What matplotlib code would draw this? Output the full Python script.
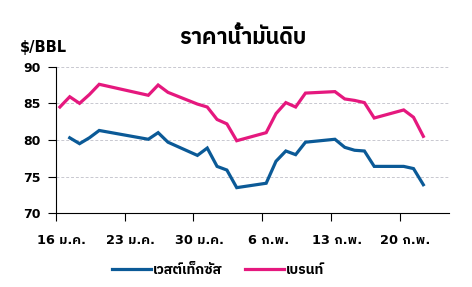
import matplotlib
matplotlib.use("Agg")
import matplotlib.pyplot as plt
import datetime as dt

# ---- data ----
brent_dates = ["2023-01-16","2023-01-17","2023-01-18","2023-01-19","2023-01-20",
               "2023-01-25","2023-01-26","2023-01-27","2023-01-30","2023-01-31",
               "2023-02-01","2023-02-02","2023-02-03","2023-02-06","2023-02-07",
               "2023-02-08","2023-02-09","2023-02-10","2023-02-13","2023-02-14",
               "2023-02-15","2023-02-16","2023-02-17","2023-02-20","2023-02-21",
               "2023-02-22"]
brent = [84.5, 85.9, 85.0, 86.2, 87.6, 86.1, 87.5, 86.5, 84.9, 84.5,
         82.8, 82.2, 79.9, 81.0, 83.6, 85.1, 84.5, 86.4, 86.6, 85.6,
         85.4, 85.1, 83.0, 84.1, 83.1, 80.5]
wti_dates = ["2023-01-17","2023-01-18","2023-01-19","2023-01-20",
             "2023-01-25","2023-01-26","2023-01-27","2023-01-30","2023-01-31",
             "2023-02-01","2023-02-02","2023-02-03","2023-02-06","2023-02-07",
             "2023-02-08","2023-02-09","2023-02-10","2023-02-13","2023-02-14",
             "2023-02-15","2023-02-16","2023-02-17","2023-02-20","2023-02-21",
             "2023-02-22"]
wti = [80.3, 79.5, 80.3, 81.3, 80.1, 81.0, 79.7, 77.9, 78.9,
       76.4, 75.9, 73.5, 74.1, 77.1, 78.5, 78.0, 79.7, 80.1, 79.0,
       78.6, 78.5, 76.4, 76.4, 76.1, 73.9]
tick_dates = ["2023-01-16", "2023-01-23", "2023-01-30", "2023-02-06", "2023-02-13", "2023-02-20"]
tick_labels = ["16 ม.ค.", "23 ม.ค.", "30 ม.ค.", "6 ก.พ.", "13 ก.พ.", "20 ก.พ."]
series_names = ["เวสต์เท็กซัส", "เบรนท์"]
title = "ราคาน้ำมันดิบ"
unit = "$/BBL"

plt.rcParams['font.family'] = ['DejaVu Sans', 'IBM Plex Sans Thai']
plt.rcParams['font.weight'] = 'bold'

start = dt.date(2023, 1, 16)
def dnum(s, off=0.0):
    d = dt.date.fromisoformat(s)
    return (d - start).days + off

fig = plt.figure(figsize=(4.72, 2.87), dpi=100)
ax = fig.add_axes([0.1186, 0.2568, 0.951 - 0.1186, 0.7676 - 0.2568])

ax.plot([dnum(d, 0.4) for d in wti_dates], wti, color="#0B5A97", lw=2.3,
        label=series_names[0], solid_joinstyle="miter")
ax.plot([dnum(d, 0.4) for d in brent_dates], brent, color="#E5187E", lw=2.3,
        label=series_names[1], solid_joinstyle="miter")

ax.set_xlim(0, 40)
ax.set_ylim(70, 90)
ax.set_yticks([70, 75, 80, 85, 90])
ax.set_xticks([dnum(d) for d in tick_dates])
ax.set_xticklabels([])
ax.set_xticks([dnum(d, 0.6) for d in tick_dates], minor=True)
ax.set_xticklabels(tick_labels, minor=True, fontweight="bold", fontsize=9.3)
for lab in ax.get_yticklabels():
    lab.set_fontweight("bold"); lab.set_fontsize(9)
for y in [75, 80, 85, 90]:
    ax.axhline(y, color="#C8C8D0", lw=0.7, ls=(0, (3, 2)), zorder=0)
for s in ["top", "right"]:
    ax.spines[s].set_visible(False)
ax.tick_params(axis="both", which="major", direction="out", length=6, width=0.8, pad=5)
ax.tick_params(axis="x", which="minor", length=0, pad=15)

fig.text(0.514, 0.872, title, ha="center", va="center", fontsize=15.5, fontweight="bold")
fig.text(0.042, 0.836, unit, ha="left", va="center", fontsize=10.5, fontweight="bold")

fig.legend(*ax.get_legend_handles_labels(), loc="center", bbox_to_anchor=(0.462, 0.06),
           ncol=2, frameon=False, prop={"size": 10, "weight": "bold"},
           handlelength=2.8, columnspacing=1.6, handletextpad=0.15)
fig.savefig("out.png", dpi=100)
